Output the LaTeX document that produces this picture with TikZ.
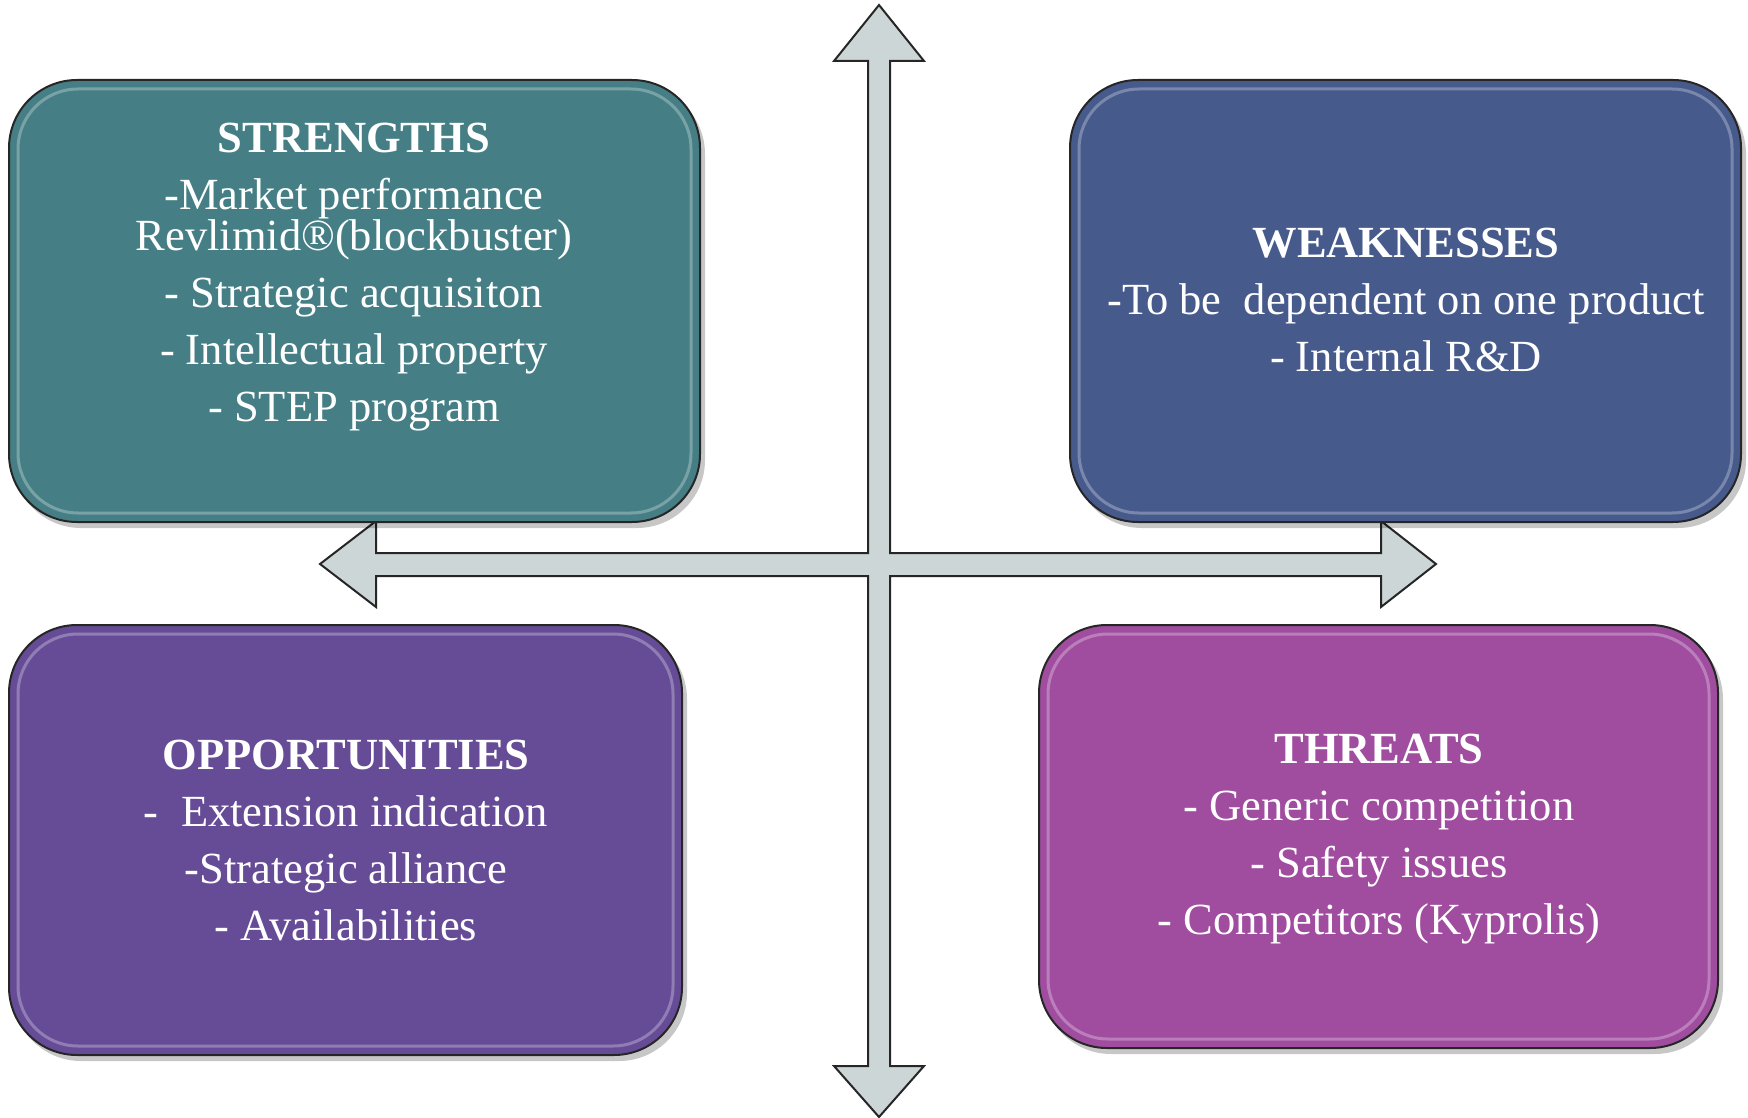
\documentclass[tikz,border=0pt]{standalone}
\usepackage{fontspec}
\setmainfont{Liberation Serif}
\definecolor{crossfill}{RGB}{205,214,215}
\definecolor{sfill}{RGB}{69,127,133}
\definecolor{wfill}{RGB}{71,90,140}
\definecolor{ofill}{RGB}{102,76,150}
\definecolor{tfill}{RGB}{160,77,160}
\tikzset{
  box/.style={draw=black!85, line width=2pt, rounded corners=68pt, inner sep=0pt, outer sep=0pt, anchor=north west},
  shadowbox/.style={fill=black, opacity=0.22, rounded corners=68pt},
  hilite/.style={draw=white, opacity=0.28, line width=3pt, rounded corners=60pt},
  txt/.style={text=white, align=center, inner sep=0pt, font=\fontsize{44.5}{57}\selectfont},
  crossarrow/.style={fill=crossfill, draw=black!85, line width=2pt, line join=miter}
}
\begin{document}
\begin{tikzpicture}[x=1pt,y=-1pt]
\useasboundingbox (0,0) rectangle (1748,1118);
% cross of arrows
\coordinate (C) at (879,564);
\draw[crossarrow] (879,5) -- (924,61) -- (890,61) -- (890,553) -- (1381,553) -- (1381,521)
  -- (1436,564) -- (1381,607) -- (1381,576) -- (890,576) -- (890,1066) -- (924,1066)
  -- (879,1117) -- (834,1066) -- (868,1066) -- (868,576) -- (376,576) -- (376,607)
  -- (320,564) -- (376,521) -- (376,553) -- (868,553) -- (868,61) -- (834,61) -- cycle;
% shadows
\fill[shadowbox] (13,86) rectangle (705,528);
\fill[shadowbox] (1074,86) rectangle (1746,528);
\fill[shadowbox] (13,631) rectangle (687,1061);
\fill[shadowbox] (1043,631) rectangle (1723,1054);
% boxes
\node[box, fill=sfill, minimum width=691pt, minimum height=442pt] (S) at (9,80) {};
\node[box, fill=wfill, minimum width=671pt, minimum height=442pt] (W) at (1070,80) {};
\node[box, fill=ofill, minimum width=673pt, minimum height=430pt] (O) at (9,625) {};
\node[box, fill=tfill, minimum width=679pt, minimum height=423pt] (T) at (1039,625) {};
\foreach \b in {S,W,O,T}{
  \draw[hilite] ([shift={(9pt,-9pt)}]\b.north west) rectangle ([shift={(-9pt,9pt)}]\b.south east);
}
% texts
\node[txt] (St) at (354,277) {\textbf{STRENGTHS}\\-Market performance\\[-16pt]Revlimid®(blockbuster)\\- Strategic acquisiton\\- Intellectual property\\- STEP program};
\node[txt] (Wt) at (1406,300) {\textbf{WEAKNESSES}\\-To be\ \ dependent on one product\\- Internal R\&D};
\node[txt] (Ot) at (346,840) {\textbf{OPPORTUNITIES}\\-\ \ Extension indication\\-Strategic alliance\\- Availabilities};
\node[txt] (Tt) at (1379,839) {\textbf{THREATS}\\- Generic competition\\- Safety issues\\- Competitors (Kyprolis)};
\end{tikzpicture}
\end{document}
